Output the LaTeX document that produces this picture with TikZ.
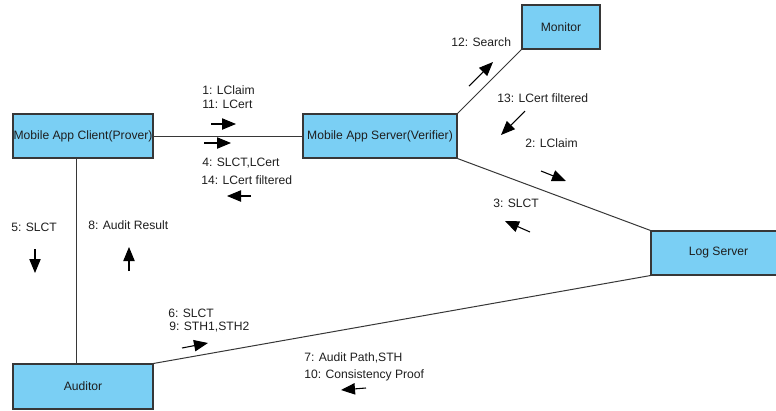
\documentclass[tikz,border=0pt]{standalone}
\usepackage{fontspec}
\setmainfont{Liberation Sans}
\usetikzlibrary{arrows.meta}
\definecolor{boxfill}{RGB}{122,207,244}
\definecolor{edgegray}{RGB}{55,55,55}
\definecolor{labelink}{RGB}{30,30,30}
\tikzset{
  objbox/.style={draw=edgegray, line width=0.8pt, fill=boxfill, inner sep=0pt,
    font=\fontsize{9.1}{10}\selectfont, text=labelink},
  link/.style={draw=edgegray, line width=0.75pt},
  msg/.style={draw=black, line width=0.8pt, -{Triangle[length=10.5pt,width=8.5pt]}},
  msglabel/.style={anchor=west, inner sep=0pt, font=\fontsize{9.1}{10}\selectfont, text=labelink}
}
\begin{document}
\begin{tikzpicture}[x=0.75pt,y=-0.75pt]
\useasboundingbox (0,0) rectangle (776,411);
\clip (0,0) rectangle (776,411);

% participants
\node[objbox, minimum width=105pt, minimum height=33pt] (cli) at (83,136) {Mobile App Client(Prover)};
\node[objbox, minimum width=115.5pt, minimum height=33pt] (srv) at (380,136) {Mobile App Server(Verifier)};
\node[objbox, minimum width=58.5pt, minimum height=33pt] (mon) at (561,27) {Monitor};
\node[objbox, minimum width=101.25pt, minimum height=33pt] (log) at (718.5,253) {Log Server};
\node[objbox, minimum width=105pt, minimum height=33.75pt] (aud) at (83,386.5) {Auditor};

% links between participants
\draw[link] (cli.east) -- (srv.west);
\draw[link] ([xshift=-5.25pt]cli.south) -- ([xshift=-5.25pt]aud.north);
\draw[link] (srv.north east) -- (mon.south west);
\draw[link] (srv.south east) -- (log.north west);
\draw[link] (aud.north east) -- (log.south west);

% message arrow end points
\coordinate (m1a) at (211,124); \coordinate (m1b) at (236,124);
\coordinate (m2a) at (204,143); \coordinate (m2b) at (231,143);
\coordinate (m3a) at (251,196); \coordinate (m3b) at (227,196);
\coordinate (m4a) at (469,86);  \coordinate (m4b) at (493,62);
\coordinate (m5a) at (525,111); \coordinate (m5b) at (501,135);
\coordinate (m6a) at (541,171); \coordinate (m6b) at (566,181);
\coordinate (m7a) at (530,232); \coordinate (m7b) at (505,221);
\coordinate (m8a) at (35,249);  \coordinate (m8b) at (35,273);
\coordinate (m9a) at (129,271); \coordinate (m9b) at (129,247);
\coordinate (m10a) at (182,348); \coordinate (m10b) at (208,343);
\coordinate (m11a) at (366,388); \coordinate (m11b) at (341,390);

\foreach \m in {m1,m2,m3,m4,m5,m6,m7,m8,m9,m10,m11}
  \draw[msg] (\m a) -- (\m b);

% message labels
\node[msglabel] (l1) at (202,90) {1: LClaim};
\node[msglabel] (l11) at (202,104) {11: LCert};
\node[msglabel] (l4) at (202,163) {4: SLCT,LCert};
\node[msglabel] (l14) at (201,180) {14: LCert filtered};
\node[msglabel] (l12) at (451,42) {12: Search};
\node[msglabel] (l13) at (497,98) {13: LCert filtered};
\node[msglabel] (l2) at (525,143) {2: LClaim};
\node[msglabel] (l3) at (493,203) {3: SLCT};
\node[msglabel] (l5) at (11,227) {5: SLCT};
\node[msglabel] (l8) at (88,225) {8: Audit Result};
\node[msglabel] (l6) at (168,313) {6: SLCT};
\node[msglabel] (l9) at (169,327) {9: STH1,STH2};
\node[msglabel] (l7) at (304,358) {7: Audit Path,STH};
\node[msglabel] (l10) at (304,375) {10: Consistency Proof};
\end{tikzpicture}
\end{document}
